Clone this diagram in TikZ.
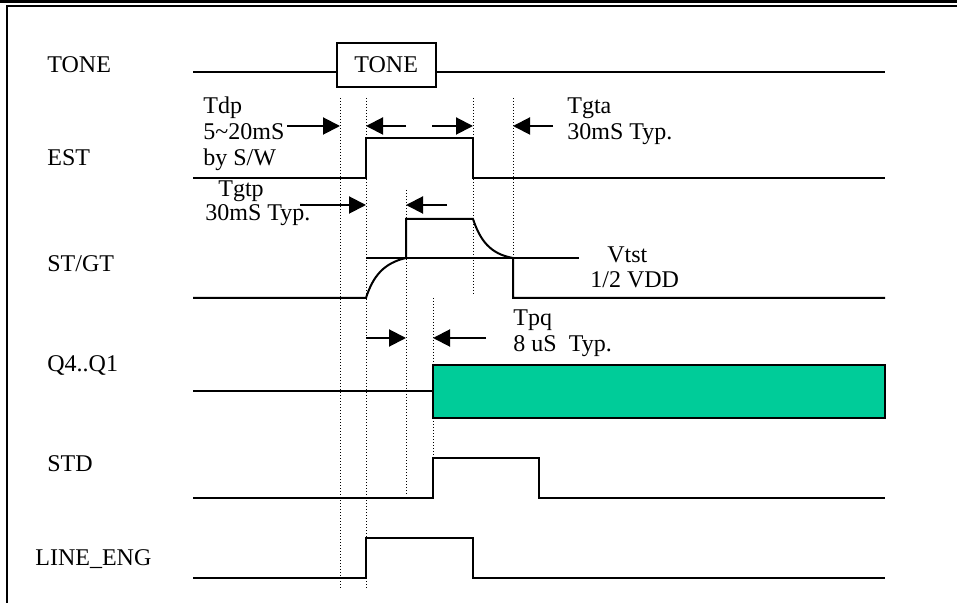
\documentclass[tikz,border=0pt]{standalone}
\usepackage{fontspec}
\setmainfont{Liberation Serif}
\usetikzlibrary{arrows.meta,positioning}
\definecolor{qfill}{RGB}{0,204,153}
\begin{document}
\begin{tikzpicture}[x=0.5pt,y=-0.5pt,font=\fontsize{12}{13}\selectfont,
	sig/.style={line width=1pt},
	guide/.style={line width=0.5pt,dash pattern=on 0.5pt off 1pt},
	tarr/.style={line width=1pt,-{Triangle[length=8.5pt,width=8.5pt]}},
	lbl/.style={anchor=base west,inner sep=0pt,align=left}]
	\useasboundingbox (0,0) rectangle (957,603);
	% frame
	\fill (0,0) rectangle (957,3.5);
	\draw[line width=1pt] (957,6) -- (7,6) -- (7,603);
	% signal names
	\node[lbl] (ntone) at (47,73) {TONE};
	\node[lbl] (nest) at (47,166) {EST};
	\node[lbl] (nstgt) at (47,272) {ST/GT};
	\node[lbl] (nq) at (47,372) {Q4..Q1};
	\node[lbl] (nstd) at (47,472) {STD};
	\node[lbl] (nline) at (35,565) {LINE\_ENG};
	% timing marks
	\foreach \n/\x in {a/340,b/366,c/406,d/433,e/473,f/513}
		\coordinate (m\n) at (\x,0);
	\draw[guide] (ma |- 0,98) -- (ma |- 0,590);
	\draw[guide] (mb |- 0,98) -- (mb |- 0,590);
	\draw[guide] (mc |- 0,190) -- (mc |- 0,496);
	\draw[guide] (md |- 0,298) -- (md |- 0,458);
	\draw[guide] (me |- 0,98) -- (me |- 0,296);
	\draw[guide] (mf |- 0,98) -- (mf |- 0,258);
	% TONE
	\node[draw,line width=1pt,minimum width=49.5pt,minimum height=22pt,inner sep=0pt] (tone) at (386.5,65) {};
	\node[lbl] (tonetxt) at (354,73) {TONE};
	\draw[sig] (193,72) -- (tone.west |- 0,72);
	\draw[sig] (tone.east |- 0,72) -- (885,72);
	% EST
	\draw[sig] (193,178) -- (mb |- 0,178) -- (mb |- 0,138) -- (me |- 0,138) -- (me |- 0,178) -- (885,178);
	% ST/GT
	\draw[sig] (193,298) -- (mb |- 0,298) .. controls (373,276) and (384,263) .. (mc |- 0,258)
		-- (mc |- 0,219) -- (me |- 0,219) .. controls (480,240) and (490,254) .. (mf |- 0,258)
		-- (mf |- 0,298) -- (885,298);
	\draw[sig] (mb |- 0,258) -- (579,258);
	% Q4..Q1
	\draw[sig] (193,391) -- (md |- 0,391);
	\draw[sig,fill=qfill] (md |- 0,365) rectangle (885,418);
	% STD
	\draw[sig] (193,498) -- (md |- 0,498) -- (md |- 0,458) -- (539,458) -- (539,498) -- (885,498);
	% LINE_ENG
	\draw[sig] (193,578) -- (mb |- 0,578) -- (mb |- 0,538) -- (me |- 0,538) -- (me |- 0,578) -- (885,578);
	% timing arrows
	\draw[tarr] (287,126) -- (ma |- 0,126);
	\draw[tarr] (406,126) -- (mb |- 0,126);
	\draw[tarr] (432,126) -- (me |- 0,126);
	\draw[tarr] (553,126) -- (mf |- 0,126);
	\draw[tarr] (300,205) -- (mb |- 0,205);
	\draw[tarr] (447,205) -- (mc |- 0,205);
	\draw[tarr] (mb |- 0,338) -- (mc |- 0,338);
	\draw[tarr] (486,338) -- (md |- 0,338);
	% timing labels
	\node[lbl] (tdp) at (203,166) {Tdp\\5\textasciitilde20mS\\by S/W};
	\node[lbl] (tgta) at (567,140) {Tgta\\30mS Typ.};
	\node[lbl] (tgtp) at (218,197) {Tgtp};
	\node[lbl] (tgtpv) at (205,221) {30mS Typ.};
	\node[lbl] (vtst) at (607,263) {Vtst};
	\node[lbl] (vdd) at (590,288) {1/2 VDD};
	\node[lbl] (tpq) at (513,352) {Tpq\\8 uS~~Typ.};
\end{tikzpicture}
\end{document}
